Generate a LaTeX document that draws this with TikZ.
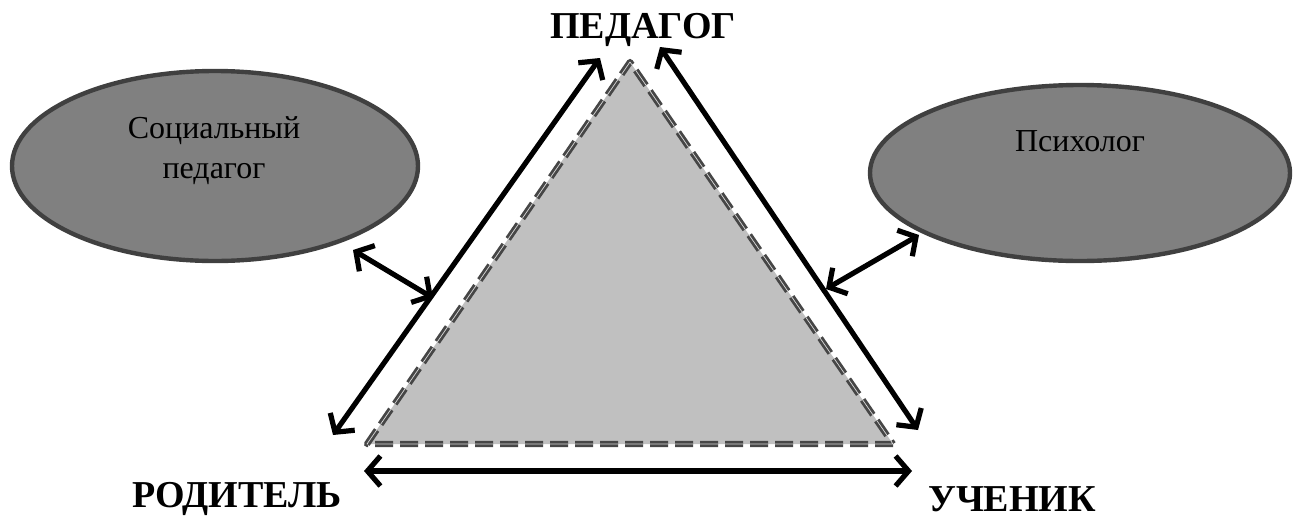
\documentclass[tikz,border=0pt]{standalone}
\usepackage{fontspec}
\setmainfont{Liberation Serif}
\usetikzlibrary{arrows.meta,positioning,shapes.geometric}
\definecolor{trifill}{RGB}{192,192,192}
\definecolor{tririm}{RGB}{70,70,70}
\definecolor{ovalfill}{RGB}{128,128,128}
\definecolor{ovalrim}{RGB}{64,64,64}
\tikzset{
  oval/.style={ellipse,draw=ovalrim,fill=ovalfill,line width=2.2pt,inner sep=0pt},
  role/.style={font=\fontsize{19}{21}\selectfont\bfseries},
  ovaltext/.style={font=\fontsize{16}{20}\selectfont,align=center},
  link/.style={{Straight Barb[length=6.5pt,width=15pt]}-{Straight Barb[length=6.5pt,width=15pt]},line width=2.6pt},
}
\begin{document}
\begin{tikzpicture}[x=0.5pt,y=-0.5pt]
\useasboundingbox (0,0) rectangle (1295,520);
% ---------------- triangle ----------------
\coordinate (top) at (630,62);
\coordinate (bl) at (367,444);
\coordinate (br) at (893,444);
\fill[trifill] (top) -- (bl) -- (br) -- cycle;
\draw[tririm,line width=1.4pt,double=white!85!black,double distance=0.35pt,dash pattern=on 9pt off 3.5pt,line join=round]
  (br) -- (bl) -- (top) -- cycle;
% ---------------- roles ----------------
\node[role] (ped) at (643,30) {ПЕДАГОГ};
\node[role] (rod) at (237,499) {РОДИТЕЛЬ};
\node[role] (uch) at (1012,499) {УЧЕНИК};
% ---------------- specialists ----------------
\node[oval,minimum width=203pt,minimum height=95pt] (soc) at (215,166) {};
\node[ovaltext] (soctxt) at (214,151) {Социальный\\педагог};
\node[oval,minimum width=210pt,minimum height=88pt] (psy) at (1080,173) {};
\node[ovaltext] (psytxt) at (1080,141) {Психолог};
% ---------------- arrows ----------------
\coordinate (l1) at (333,435);
\coordinate (l2) at (600,58);
\coordinate (r1) at (660,47);
\coordinate (r2) at (918,430);
\coordinate (b1) at (364,471);
\coordinate (b2) at (912,471);
\coordinate (s1) at (353,250);
\coordinate (s2) at (433,298);
\coordinate (p1) at (826,289);
\coordinate (p2) at (919,235);
\draw[link] (l1) -- (l2);
\draw[link] (r1) -- (r2);
\draw[link] (b1) -- (b2);
\draw[link] (s1) -- (s2);
\draw[link] (p1) -- (p2);
\end{tikzpicture}
\end{document}
